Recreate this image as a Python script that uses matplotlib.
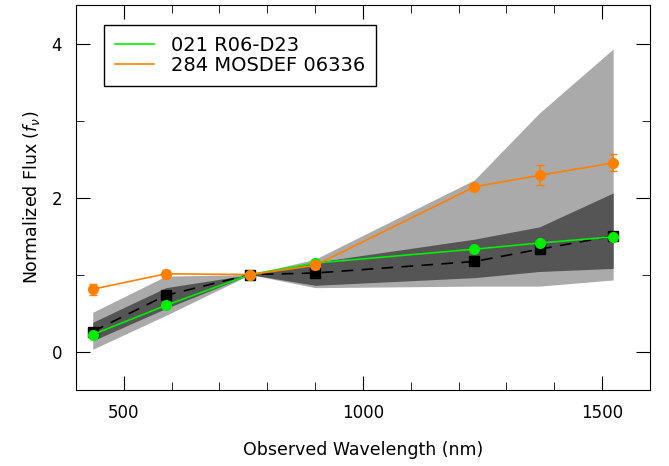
import matplotlib
matplotlib.use('Agg')
import matplotlib.pyplot as plt
from matplotlib.ticker import MultipleLocator

# observed wavelengths of the filters (nm)
wave = [435, 588, 764, 900, 1233, 1369, 1523]

# template percentile bands
outer_lo = [0.03, 0.47, 1.0, 0.83, 0.85, 0.85, 0.93]
outer_hi = [0.51, 0.98, 1.0, 1.20, 2.23, 3.10, 3.93]
inner_lo = [0.14, 0.56, 1.0, 0.86, 0.96, 1.04, 1.08]
inner_hi = [0.38, 0.83, 1.0, 1.16, 1.46, 1.62, 2.06]

# median template
median = [0.26, 0.73, 1.0, 1.02, 1.17, 1.33, 1.50]

# objects
green_name = "021 R06-D23"
green_flux = [0.22, 0.60, 1.0, 1.15, 1.33, 1.41, 1.49]

orange_name = "284 MOSDEF 06336"
orange_flux = [0.81, 1.01, 1.0, 1.12, 2.14, 2.29, 2.45]
orange_err = [0.07, 0.05, 0.02, 0.05, 0.03, 0.13, 0.11]

plt.rcParams['font.family'] = ['DejaVu Sans']

fig = plt.figure(figsize=(6.69, 4.66), dpi=100)
ax = fig.add_axes([0.1136, 0.163, 0.858, 0.826])

ax.fill_between(wave, outer_lo, outer_hi, color="#aaaaaa", lw=0, zorder=1)
ax.fill_between(wave, inner_lo, inner_hi, color="#555555", lw=0, zorder=2)

ax.plot(wave, median, ls=(0, (7, 5)), color="black", lw=1.2, marker="s",
        markersize=7, zorder=3)
ax.plot(wave, green_flux, color="#00ee00", lw=1.2, marker="o", markersize=7,
        label=green_name, zorder=4)
ax.errorbar(wave, orange_flux, yerr=orange_err, color="#ff8000", lw=1.2,
            marker="o", markersize=7, capsize=3, elinewidth=1.2,
            label=orange_name, zorder=5)

ax.set_xlim(400, 1600)
ax.set_ylim(-0.5, 4.5)
ax.xaxis.set_major_locator(MultipleLocator(500))
ax.xaxis.set_minor_locator(MultipleLocator(100))
ax.yaxis.set_major_locator(MultipleLocator(2))
ax.yaxis.set_minor_locator(MultipleLocator(1))
ax.tick_params(which="both", direction="in", top=True, right=True,
               labelsize=12, pad=10)
ax.tick_params(which="major", length=10)
ax.tick_params(which="minor", length=6)

ax.set_xlabel("Observed Wavelength (nm)", fontsize=12.5, labelpad=14)
ax.set_ylabel(r"Normalized Flux ($f_\nu$)", fontsize=12.5, labelpad=7)

labels = [green_name, orange_name]
handles = [plt.Line2D([], [], color="#00ee00", lw=1.2),
           plt.Line2D([], [], color="#ff8000", lw=1.2)]
leg = ax.legend(handles, labels, loc="upper left", fontsize=14, fancybox=False,
                edgecolor="black", framealpha=1, handlelength=2.0,
                handletextpad=0.9, borderpad=0.55, borderaxespad=0,
                labelspacing=0.05, bbox_to_anchor=(0.049, 0.948))
leg.get_frame().set_linewidth(1.0)

fig.savefig("out.png", dpi=100)
